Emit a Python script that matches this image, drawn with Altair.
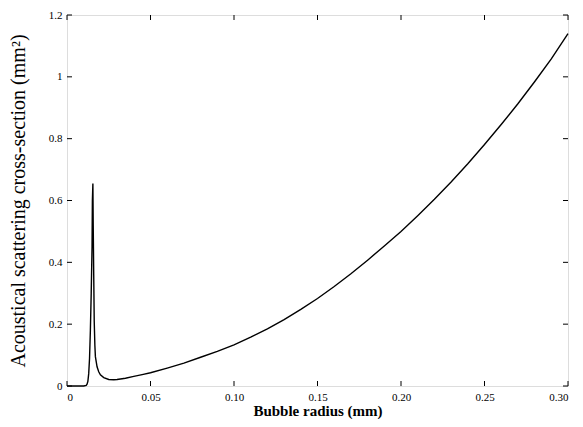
import altair as alt
import pandas as pd

radius = [0.0, 0.005, 0.010, 0.0115, 0.012, 0.0125, 0.013, 0.0135, 0.014, 0.0145,
          0.015, 0.0152, 0.0155, 0.0157, 0.016, 0.0163, 0.0167, 0.017, 0.018, 0.019,
          0.020, 0.022, 0.025, 0.028, 0.030, 0.035, 0.040, 0.045, 0.050, 0.060,
          0.070, 0.080, 0.090, 0.100, 0.110, 0.120, 0.130, 0.140, 0.150, 0.160,
          0.170, 0.180, 0.190, 0.200, 0.210, 0.220, 0.230, 0.240, 0.250, 0.260,
          0.270, 0.280, 0.290, 0.300]
sigma = [0.0, 0.0, 0.0, 0.002, 0.006, 0.015, 0.04, 0.09, 0.18, 0.30,
         0.45, 0.60, 0.655, 0.52, 0.36, 0.21, 0.13, 0.095, 0.062, 0.046,
         0.036, 0.027, 0.021, 0.020, 0.021, 0.025, 0.031, 0.037, 0.043, 0.058,
         0.074, 0.093, 0.112, 0.133, 0.158, 0.185, 0.215, 0.248, 0.283, 0.322,
         0.363, 0.407, 0.453, 0.500, 0.551, 0.604, 0.660, 0.719, 0.781, 0.846,
         0.913, 0.984, 1.058, 1.140]

x_ticks = [0.0, 0.05, 0.10, 0.15, 0.20, 0.25, 0.30]
y_ticks = [0.0, 0.2, 0.4, 0.6, 0.8, 1.0, 1.2]

W, H = 501, 371
FONT = "Liberation Serif"

df = pd.DataFrame({"r": radius, "s": sigma})
xt = pd.DataFrame({"t": x_ticks})
yt = pd.DataFrame({"t": y_ticks})

xscale = alt.Scale(domain=[0, 0.30], nice=False, zero=False)
yscale = alt.Scale(domain=[0, 1.2], nice=False, zero=False)

xaxis = alt.Axis(title="Bubble radius (mm)", values=x_ticks, labelPadding=5,
                 labelExpr="datum.value == 0 ? '0' : format(datum.value, '.2f')",
                 ticks=False, domain=False, grid=False,
                 labelFont=FONT, labelFontSize=11, labelColor="black",
                 titleFont=FONT, titleColor="black",
                 titleFontSize=15, titleFontWeight="bold", titlePadding=1)
yaxis = alt.Axis(title="Acoustical scattering cross-section (mm²)",
                 values=y_ticks, labelPadding=5, labelExpr="'' + datum.value",
                 ticks=False, domain=False, grid=False,
                 labelFont=FONT, labelFontSize=11, labelColor="black",
                 titleFont=FONT, titleColor="black",
                 titleFontSize=20, titleFontWeight="normal", titlePadding=20)

line = alt.Chart(df).mark_line(color="black", strokeWidth=1.4).encode(
    x=alt.X("r:Q", scale=xscale, axis=xaxis),
    y=alt.Y("s:Q", scale=yscale, axis=yaxis),
)

tick_len = 5
bx = alt.Chart(xt).mark_rule(color="black", strokeWidth=1).encode(
    x=alt.X("t:Q", scale=xscale, axis=xaxis), y=alt.value(H), y2=alt.value(H - tick_len))
tx = alt.Chart(xt).mark_rule(color="black", strokeWidth=1).encode(
    x=alt.X("t:Q", scale=xscale, axis=xaxis), y=alt.value(0), y2=alt.value(tick_len))
ly = alt.Chart(yt).mark_rule(color="black", strokeWidth=1).encode(
    y=alt.Y("t:Q", scale=yscale, axis=yaxis), x=alt.value(0), x2=alt.value(tick_len))
ry = alt.Chart(yt).mark_rule(color="black", strokeWidth=1).encode(
    y=alt.Y("t:Q", scale=yscale, axis=yaxis), x=alt.value(W), x2=alt.value(W - tick_len))

chart = alt.layer(line, bx, tx, ly, ry).properties(
    width=W, height=H,
    autosize=alt.AutoSizeParams(type="none"),
    padding={"left": 59, "top": 7, "right": 7, "bottom": 33},
).configure_view(
    stroke="black", strokeWidth=1.5
).configure_axis(
    labelFont=FONT, titleFont=FONT
).configure(background="white", font=FONT)

chart.save("out.html", embed_options={"renderer": "svg", "actions": False})
